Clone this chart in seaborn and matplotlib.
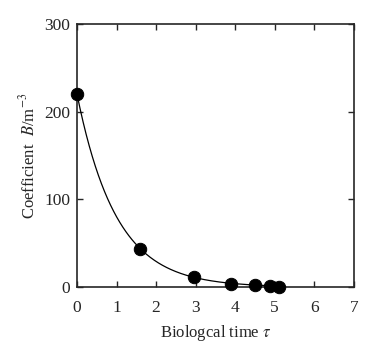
import numpy as np
import matplotlib
matplotlib.use('Agg')
import matplotlib.pyplot as plt
import seaborn as sns

# 数据点
tau = [0.0, 1.6, 2.95, 3.9, 4.5, 4.88, 5.12]
coef_b = [220, 44, 11, 4, 2.5, 1, 0.5]

sns.set_style("ticks")
plt.rcParams['font.family'] = ['Liberation Serif', 'DejaVu Serif']
plt.rcParams['mathtext.fontset'] = 'stix'

fig = plt.figure(figsize=(3.85, 3.48), dpi=100)
ax = fig.add_axes([0.2, 0.175, 0.719, 0.756])

# 指数拟合曲线（按数值加权，避免小值主导）
k, c = np.polyfit(tau, np.log(coef_b), 1, w=np.array(coef_b))
xs = np.linspace(0, max(tau), 200)
ax.plot(xs, np.exp(c) * np.exp(k * xs), color='black', lw=0.9)

sns.scatterplot(x=tau, y=coef_b, ax=ax, color='black', s=80, edgecolor='black', zorder=3, clip_on=False)

ax.set_xlim(0, 7)
ax.set_ylim(0, 300)
ax.set_xticks(range(0, 8))
ax.set_yticks([0, 100, 200, 300])
ax.tick_params(direction='in', top=True, right=True, labelsize=12.5, length=4, width=1)
ax.tick_params(axis='x', pad=9)
ax.tick_params(axis='y', pad=5)
for s in ax.spines.values():
    s.set_linewidth(1.2)
ax.set_xlabel(r'Biologcal time $\it{\tau}$', fontsize=12, labelpad=5)
ax.set_ylabel(r'Coefficient  $\it{B}$/m$^{-3}$', fontsize=12, labelpad=4)

fig.savefig('out.png', dpi=100)
